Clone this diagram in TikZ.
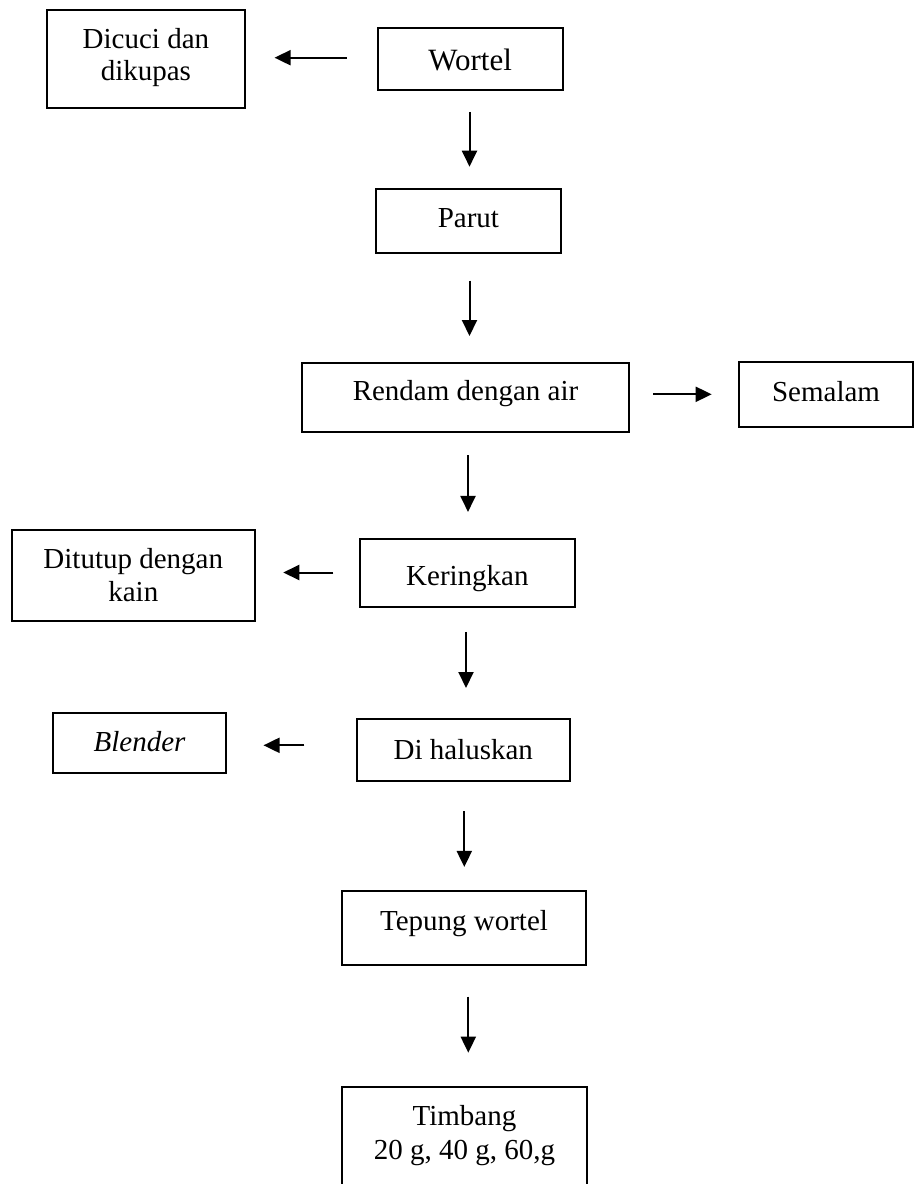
\documentclass[tikz,border=0pt]{standalone}
\usepackage{fontspec}
\setmainfont{Liberation Serif}
\usetikzlibrary{arrows.meta,calc}
\begin{document}
\begin{tikzpicture}[x=1pt,y=-1pt,
  box/.style={draw, line width=2pt, inner sep=0pt, outer sep=0pt, font=\fontsize{29}{33.5}\selectfont},
  arr/.style={line width=2pt, -{Triangle[length=16pt,width=15pt]}}]
\useasboundingbox (0,0) rectangle (914,1184);
\clip (0,0) rectangle (914,1184);
% boxes
\node[box, minimum width=198.3, minimum height=98] (dicuci) at (145.9,58.5)
  {\smash{\raisebox{-21.5pt}{\fontsize{29}{31.7}\selectfont\begin{tabular}[b]{@{}c@{}}Dicuci dan\\dikupas\end{tabular}}}};
\node[box, minimum width=184.8, minimum height=61.3, font=\fontsize{31}{36}\selectfont] (wortel) at (470.1,59)
  {\smash{\raisebox{-11pt}{Wortel}}};
\node[box, minimum width=184.8, minimum height=64] (parut) at (468.4,220.5)
  {\smash{\raisebox{-7.2pt}{Parut}}};
\node[box, minimum width=327, minimum height=68.8] (rendam) at (465.5,397.1)
  {\smash{\raisebox{-3.6pt}{Rendam dengan air}}};
\node[box, minimum width=173.5, minimum height=65.6] (semalam) at (826.05,394.5)
  {\smash{\raisebox{-6.5pt}{Semalam}}};
\node[box, minimum width=243.3, minimum height=90.7] (ditutup) at (133.3,575.3)
  {\smash{\raisebox{-26.4pt}{\fontsize{29}{33.4}\selectfont\begin{tabular}[b]{@{}c@{}}Ditutup dengan\\kain\end{tabular}}}};
\node[box, minimum width=214.8, minimum height=67.7] (keringkan) at (467.4,572.8)
  {\smash{\raisebox{-12.2pt}{Keringkan}}};
\node[box, minimum width=173.2, minimum height=60.4] (blender) at (139.6,743)
  {\smash{\raisebox{-8pt}{\itshape Blender}}};
\node[box, minimum width=213.3, minimum height=61.4] (haluskan) at (463.3,750)
  {\smash{\raisebox{-9.3pt}{Di haluskan}}};
\node[box, minimum width=243.4, minimum height=74.3] (tepung) at (464,928.1)
  {\smash{\raisebox{-1.9pt}{Tepung wortel}}};
\node[box, anchor=north, minimum width=245.6, minimum height=150] (timbang) at (464.5,1086.7) {};
\node[inner sep=0pt, outer sep=0pt, anchor=base, font=\fontsize{29}{34}\selectfont] (timbangtext) at (464.5,1159)
  {\begin{tabular}[b]{@{}c@{}}Timbang\\20 g, 40 g, 60,g\end{tabular}};
% connectors
\draw[arr] ([xshift=-31.2,yshift=1.3]wortel.west) -- ([xshift=29.5,yshift=0.8]dicuci.east);
\draw[arr] ([xshift=-0.6,yshift=-22.2]wortel.south) -- ([xshift=1.1,yshift=21.8]parut.north);
\draw[arr] ([xshift=1.1,yshift=-28]parut.south) -- ([xshift=4,yshift=26.7]rendam.north);
\draw[arr] ([xshift=24.3,yshift=2.8]rendam.east) -- ([xshift=-27.6,yshift=0.2]semalam.west);
\draw[arr] ([xshift=2.5,yshift=-23.8]rendam.south) -- ([xshift=0.6,yshift=27]keringkan.north);
\draw[arr] ([xshift=-26.7,yshift=0.3]keringkan.west) -- ([xshift=28.3,yshift=2.8]ditutup.east);
\draw[arr] ([xshift=-1.4,yshift=-25.3]keringkan.south) -- ([xshift=2.7,yshift=31.3]haluskan.north);
\draw[arr] ([xshift=-52.4,yshift=4.7]haluskan.west) -- ([xshift=37.3,yshift=-2.3]blender.east);
\draw[arr] ([xshift=1,yshift=-30.3]haluskan.south) -- ([xshift=0.3,yshift=24]tepung.north);
\draw[arr] ([xshift=4.3,yshift=-31.4]tepung.south) -- ([xshift=3.8,yshift=34]timbang.north);
\end{tikzpicture}
\end{document}
